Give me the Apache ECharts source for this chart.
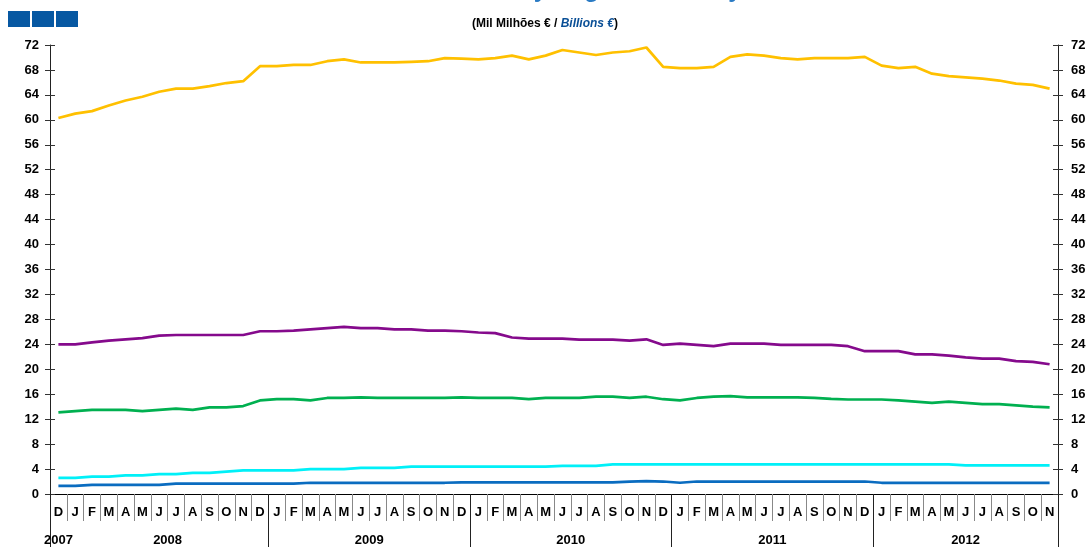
<!DOCTYPE html>
<html>
<head>
<meta charset="utf-8">
<script src="https://cdn.jsdelivr.net/npm/echarts@6/dist/echarts.min.js"></script>
<style>
html,body{margin:0;padding:0;background:#fff;}
#chart{width:1090px;height:547px;}
</style>
</head>
<body>
<div id="chart"></div>
<script>
// ---- data ----
const months = ['D',
  'J','F','M','A','M','J','J','A','S','O','N','D',
  'J','F','M','A','M','J','J','A','S','O','N','D',
  'J','F','M','A','M','J','J','A','S','O','N','D',
  'J','F','M','A','M','J','J','A','S','O','N','D',
  'J','F','M','A','M','J','J','A','S','O','N'];
const monthYears = [2007,
  2008,2008,2008,2008,2008,2008,2008,2008,2008,2008,2008,2008,
  2009,2009,2009,2009,2009,2009,2009,2009,2009,2009,2009,2009,
  2010,2010,2010,2010,2010,2010,2010,2010,2010,2010,2010,2010,
  2011,2011,2011,2011,2011,2011,2011,2011,2011,2011,2011,2011,
  2012,2012,2012,2012,2012,2012,2012,2012,2012,2012,2012];
const yTicks = {min: 0, max: 72, step: 4};

const seriesYellow = [60.3,61.0,61.4,62.3,63.1,63.7,64.5,65.0,65.0,65.4,65.9,66.2,
  68.6,68.6,68.8,68.8,69.4,69.7,69.2,69.2,69.2,69.3,69.4,69.9,
  69.8,69.7,69.9,70.3,69.7,70.3,71.2,70.8,70.4,70.8,71.0,71.6,
  68.5,68.3,68.3,68.5,70.1,70.5,70.3,69.9,69.7,69.9,69.9,69.9,70.1,
  68.7,68.3,68.5,67.4,67.0,66.8,66.6,66.3,65.8,65.6,65.0];
const seriesPurple = [24.0,24.0,24.3,24.6,24.8,25.0,25.4,25.5,25.5,25.5,25.5,25.5,
  26.1,26.1,26.2,26.4,26.6,26.8,26.6,26.6,26.4,26.4,26.2,26.2,
  26.1,25.9,25.8,25.1,24.9,24.9,24.9,24.75,24.75,24.75,24.6,24.8,
  23.9,24.1,23.9,23.7,24.1,24.1,24.1,23.9,23.9,23.9,23.9,23.7,22.9,
  22.9,22.9,22.4,22.4,22.2,21.9,21.7,21.7,21.3,21.2,20.8];
const seriesGreen = [13.1,13.3,13.5,13.5,13.5,13.3,13.5,13.7,13.5,13.9,13.9,14.1,
  15.0,15.2,15.2,15.0,15.4,15.4,15.5,15.4,15.4,15.4,15.4,15.4,
  15.5,15.4,15.4,15.4,15.2,15.4,15.4,15.4,15.6,15.6,15.4,15.6,
  15.2,15.0,15.4,15.6,15.7,15.5,15.5,15.5,15.5,15.4,15.25,15.15,15.15,
  15.15,15.0,14.8,14.6,14.8,14.6,14.4,14.4,14.2,14.0,13.9];
const seriesCyan = [2.6,2.6,2.8,2.8,3.0,3.0,3.2,3.2,3.4,3.4,3.6,3.8,
  3.8,3.8,3.8,4.0,4.0,4.0,4.2,4.2,4.2,4.4,4.4,4.4,
  4.4,4.4,4.4,4.4,4.4,4.4,4.5,4.5,4.5,4.75,4.75,4.75,
  4.75,4.75,4.75,4.75,4.75,4.75,4.75,4.75,4.75,4.75,4.75,4.75,4.75,
  4.75,4.75,4.75,4.75,4.75,4.6,4.6,4.6,4.6,4.6,4.6];
const seriesBlue = [1.3,1.3,1.45,1.45,1.45,1.45,1.45,1.65,1.65,1.65,1.65,1.65,
  1.65,1.65,1.65,1.8,1.8,1.8,1.8,1.8,1.8,1.8,1.8,1.8,
  1.85,1.85,1.85,1.85,1.85,1.85,1.85,1.85,1.85,1.85,2.0,2.05,
  2.0,1.8,2.0,2.0,2.0,2.0,2.0,2.0,2.0,2.0,2.0,2.0,2.0,
  1.8,1.8,1.8,1.8,1.8,1.8,1.8,1.8,1.8,1.8,1.8];

// ---- derived year groups ----
const groups = [];
monthYears.forEach((y, i) => {
  const g = groups[groups.length - 1];
  if (g && g.year === y) g.last = i; else groups.push({year: y, first: i, last: i});
});
const yearCenters = groups.map(g => (g.first + g.last) / 2);
const yearBounds = [-0.5].concat(groups.slice(2).map(g => g.first - 0.5), [months.length - 0.5]);

const FONT = '"Liberation Sans", Arial, sans-serif';
const chart = echarts.init(document.getElementById('chart'), null, {renderer: 'canvas'});

function yAx(pos, labels, inside) {
  return {
    type: 'value', position: pos, min: yTicks.min, max: yTicks.max, interval: yTicks.step,
    axisLine: {show: labels, onZero: false, lineStyle: {color: '#222', width: 1}},
    axisTick: {show: true, inside: inside, length: 5, lineStyle: {color: '#333'}},
    axisLabel: {show: labels, color: '#000', fontWeight: 'bold', fontSize: 13, fontFamily: FONT,
      margin: pos === 'left' ? 11 : 13},
    splitLine: {show: false}
  };
}

const lineStyle = c => ({color: c, width: 2.7});
function ser(name, data, color) {
  return {name, type: 'line', data, xAxisIndex: 0, yAxisIndex: 0, symbol: 'none',
    lineStyle: lineStyle(color), itemStyle: {color}, z: 3, animation: false};
}

chart.setOption({
  animation: false,
  backgroundColor: '#fff',
  title: [
    {text: 'Stock of loans by original maturity', left: 'center', top: -27,
      textStyle: {color: '#2b7bc4', fontSize: 24, fontWeight: 'bold', fontFamily: FONT}},
    {text: '{a|(Mil Milhões € / }{b|Billions}{b| €}{a|)}', left: 'center', top: 13,
      textStyle: {rich: {
        a: {color: '#000', fontSize: 12, fontWeight: 'bold', fontFamily: FONT},
        b: {color: '#0a4f96', fontSize: 12, fontWeight: 'bold', fontStyle: 'italic', fontFamily: FONT}
      }}}
  ],
  graphic: [0, 1, 2].map(k => ({type: 'rect', left: 8 + k * 24, top: 11,
    shape: {width: 22, height: 16}, style: {fill: '#0758a2'}})),
  grid: {left: 50, right: 32, top: 45, bottom: 53, containLabel: false},
  xAxis: [
    {type: 'category', data: months, position: 'bottom', boundaryGap: true,
      axisLine: {show: true, onZero: false, lineStyle: {color: '#000', width: 1}},
      axisTick: {show: true, interval: 0, length: 27, lineStyle: {color: '#888'}},
      axisLabel: {interval: 0, margin: 12, color: '#000', fontWeight: 'bold', fontSize: 13, fontFamily: FONT},
      splitLine: {show: false}},
    {type: 'value', position: 'bottom', min: -0.5, max: months.length - 0.5,
      axisLine: {show: false, onZero: false},
      axisTick: {show: true, customValues: yearBounds, length: 53, lineStyle: {color: '#222'}},
      axisLabel: {customValues: yearCenters, margin: 40, color: '#000', fontWeight: 'bold', fontSize: 13,
        fontFamily: FONT,
        formatter: v => { const i = yearCenters.indexOf(v); return i >= 0 ? String(groups[i].year) : ''; }},
      splitLine: {show: false}}
  ],
  yAxis: [yAx('left', true, false), yAx('right', true, false), yAx('left', false, true), yAx('right', false, true)],
  series: [
    ser('Yellow', seriesYellow, '#ffc000'),
    ser('Purple', seriesPurple, '#850a8c'),
    ser('Green', seriesGreen, '#00b050'),
    ser('Cyan', seriesCyan, '#00f0f8'),
    ser('Blue', seriesBlue, '#0a6cc0')
  ]
});
</script>
</body>
</html>
